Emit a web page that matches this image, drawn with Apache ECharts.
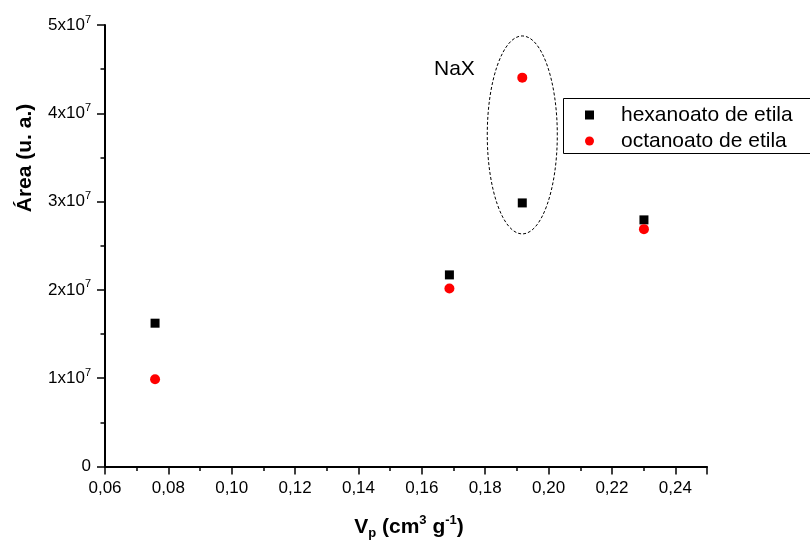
<!DOCTYPE html>
<html><head><meta charset="utf-8">
<script src="https://cdn.jsdelivr.net/npm/echarts@6/dist/echarts.min.js"></script>
<style>html,body{margin:0;padding:0;background:#fff}#c{width:810px;height:542px}</style>
</head><body><div id="c"></div>
<script>
// Data
const poreVolume = [0.0758, 0.1687, 0.1917, 0.2301];          // Vp (cm3 g-1)
const hexanoato = [1.623e7, 2.170e7, 2.985e7, 2.793e7];       // Área (u. a.)
const octanoato = [0.989e7, 2.015e7, 4.404e7, 2.688e7];       // Área (u. a.)
const seriesNames = ['hexanoato de etila', 'octanoato de etila'];
const yTickExponent = 7;
const annotationText = 'NaX';

const FONT = 'Liberation Sans, Arial, Helvetica, sans-serif';
const chart = echarts.init(document.getElementById('c'), null, {renderer: 'canvas'});

function xLabel(v) {
  if (Math.abs(v - 0.25) < 1e-9) return '';
  return v.toFixed(2).replace('.', ',');
}
function yLabel(v) {
  if (v === 0) return '{b|0}';
  return '{b|' + Math.round(v / 1e7) + 'x10}{s|' + yTickExponent + '}';
}

const axisCommon = {
  axisLine: {show: true, onZero: false, lineStyle: {color: '#000', width: 2}},
  axisTick: {show: true, inside: false, length: 8, lineStyle: {color: '#000', width: 1.5}},
  minorTick: {show: true, splitNumber: 2, length: 4.5, lineStyle: {color: '#000', width: 1.5}},
  splitLine: {show: false},
  minorSplitLine: {show: false}
};

chart.setOption({
  animation: false,
  backgroundColor: '#fff',
  grid: {left: 105, right: 103, top: 25, bottom: 75.5, containLabel: false},
  xAxis: Object.assign({
    type: 'value', min: 0.06, max: 0.25, interval: 0.02,
    axisLabel: {formatter: xLabel, color: '#000', fontSize: 17, fontFamily: FONT, margin: 13, showMaxLabel: true}
  }, axisCommon),
  yAxis: Object.assign({
    type: 'value', min: 0, max: 5e7, interval: 1e7,
    axisLabel: {
      formatter: yLabel, color: '#000', margin: 14, fontFamily: FONT,
      rich: {
        b: {fontSize: 17, fontFamily: FONT, color: '#000', lineHeight: 22, verticalAlign: 'middle'},
        s: {fontSize: 11, fontFamily: FONT, color: '#000', lineHeight: 10, verticalAlign: 'top'}
      }
    }
  }, axisCommon),
  legend: {
    show: true, orient: 'vertical', left: 585, top: 104, padding: 0,
    itemWidth: 9, itemHeight: 9, itemGap: 4,
    textStyle: {fontSize: 21, fontFamily: FONT, color: '#000', lineHeight: 22, padding: [0, 0, 0, 22]},
    data: [
      {name: seriesNames[0], icon: 'rect'},
      {name: seriesNames[1], icon: 'circle'}
    ]
  },
  series: [
    {name: seriesNames[0], type: 'scatter', symbol: 'rect', symbolSize: 9,
     itemStyle: {color: '#000', opacity: 1}, data: poreVolume.map((x, i) => [x, hexanoato[i]]), z: 3},
    {name: seriesNames[1], type: 'scatter', symbol: 'circle', symbolSize: 10,
     itemStyle: {color: '#ff0000', opacity: 1}, data: poreVolume.map((x, i) => [x, octanoato[i]]), z: 3}
  ]
});

// annotation ellipse around the NaX points, placed via the chart scales
const c = chart.convertToPixel({gridIndex: 0}, [poreVolume[2], 3.755e7]);
const e1 = chart.convertToPixel({gridIndex: 0}, [poreVolume[2] + 0.01105, 3.755e7 + 1.121e7]);
const rx = e1[0] - c[0], ry = c[1] - e1[1];

chart.setOption({
  graphic: [
    {type: 'rect', shape: {x: 563.5, y: 98.5, width: 270, height: 55},
     style: {fill: 'none', stroke: '#000', lineWidth: 1}, z: 1},
    {type: 'ellipse', shape: {cx: c[0], cy: c[1], rx: rx, ry: ry},
     style: {fill: 'none', stroke: '#000', lineWidth: 1, lineDash: [3, 2]}, z: 1},
    {type: 'text', x: 434, y: 69,
     style: {text: annotationText, font: '21px ' + FONT, fill: '#000', align: 'left', verticalAlign: 'middle'}},
    {type: 'text', x: 25, y: 158, rotation: Math.PI / 2,
     style: {text: 'Área (u. a.)', font: 'bold 21px ' + FONT, fill: '#000', align: 'center', verticalAlign: 'middle'}},
    {type: 'text', x: 409, y: 527,
     style: {
       text: '{m|V}{sub|p}{m| (cm}{sup|3}{m| g}{sup|-1}{m|)}',
       align: 'center', verticalAlign: 'middle',
       rich: {
         m: {fontSize: 21, fontWeight: 'bold', fontFamily: FONT, fill: '#000', lineHeight: 26, verticalAlign: 'middle'},
         sub: {fontSize: 13, fontWeight: 'bold', fontFamily: FONT, fill: '#000', lineHeight: 12, verticalAlign: 'bottom'},
         sup: {fontSize: 13, fontWeight: 'bold', fontFamily: FONT, fill: '#000', lineHeight: 12, verticalAlign: 'top'}
       }
     }}
  ]
});
</script></body></html>
